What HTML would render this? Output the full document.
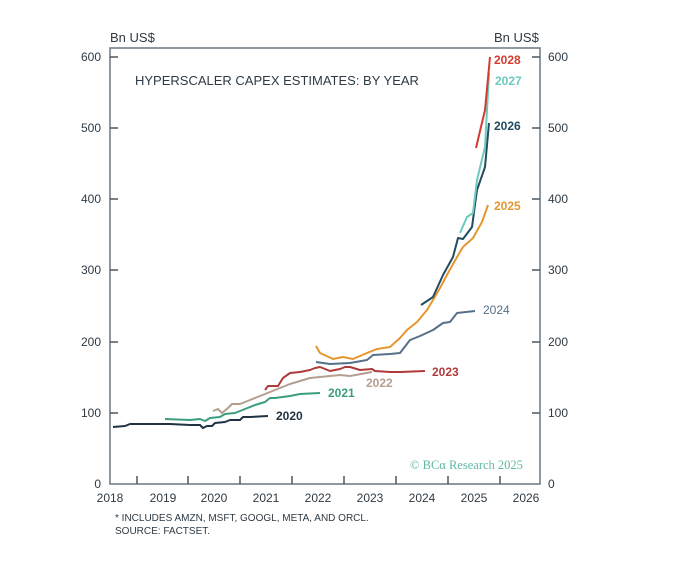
<!DOCTYPE html>
<html><head><meta charset="utf-8"><style>
body{margin:0;background:#fff;}
svg{display:block;font-family:"Liberation Sans",sans-serif;}
</style></head><body>
<svg width="679" height="574" viewBox="0 0 679 574">
<rect width="679" height="574" fill="#fff"/>
<g fill="#2e3a44" font-size="13">
<text x="110" y="42">Bn US$</text>
<text x="494" y="42">Bn US$</text>
</g>
<rect x="110" y="48" width="430" height="436" fill="none" stroke="#6b7780" stroke-width="1.5"/>
<g stroke="#4a5560" stroke-width="1.5">
<line x1="110" y1="57" x2="118" y2="57"/><line x1="110" y1="128" x2="118" y2="128"/><line x1="110" y1="199" x2="118" y2="199"/><line x1="110" y1="270" x2="118" y2="270"/><line x1="110" y1="342" x2="118" y2="342"/><line x1="110" y1="413" x2="118" y2="413"/>
<line x1="532" y1="57" x2="540" y2="57"/><line x1="532" y1="128" x2="540" y2="128"/><line x1="532" y1="199" x2="540" y2="199"/><line x1="532" y1="270" x2="540" y2="270"/><line x1="532" y1="342" x2="540" y2="342"/><line x1="532" y1="413" x2="540" y2="413"/>
<line x1="137" y1="476" x2="137" y2="484"/><line x1="188" y1="476" x2="188" y2="484"/><line x1="240" y1="476" x2="240" y2="484"/><line x1="292" y1="476" x2="292" y2="484"/><line x1="344" y1="476" x2="344" y2="484"/><line x1="396" y1="476" x2="396" y2="484"/><line x1="448" y1="476" x2="448" y2="484"/><line x1="500" y1="476" x2="500" y2="484"/>
</g>
<g fill="#2e3a44" font-size="12" text-anchor="end">
<text x="101" y="61">600</text><text x="101" y="132">500</text><text x="101" y="203">400</text><text x="101" y="274">300</text><text x="101" y="346">200</text><text x="101" y="417">100</text><text x="101" y="488">0</text>
</g>
<g fill="#2e3a44" font-size="12">
<text x="548" y="61">600</text><text x="548" y="132">500</text><text x="548" y="203">400</text><text x="548" y="274">300</text><text x="548" y="346">200</text><text x="548" y="417">100</text><text x="548" y="488">0</text>
</g>
<g fill="#2e3a44" font-size="12" text-anchor="middle">
<text x="110" y="502">2018</text><text x="163" y="502">2019</text><text x="214" y="502">2020</text><text x="266" y="502">2021</text><text x="318" y="502">2022</text><text x="370" y="502">2023</text><text x="422" y="502">2024</text><text x="474" y="502">2025</text><text x="526" y="502">2026</text>
</g>
<text x="135" y="85" font-size="13" fill="#2e3a44">HYPERSCALER CAPEX ESTIMATES: BY YEAR</text>
<g fill="none" stroke-width="2" stroke-linejoin="round">
<polyline stroke="#1f3344" points="113,427 125,426 130,424 150,424 170,424 190,425 200,425 203,428 207,426 212,426 215,423 225,422 230,420 240,420 243,417 250,417 268,416"/>
<polyline stroke="#3a9e7e" points="165,419 190,420 200,419 205,421 210,418 220,417 225,414 235,413 245,409 255,405 265,402 270,398 275,398 290,396 300,394 320,393"/>
<polyline stroke="#b39e90" points="213,411 218,409 222,413 228,408 232,404 240,404 250,400 260,396 270,392 280,388 290,384 300,381 310,378 330,376 340,375 350,376 372,372"/>
<polyline stroke="#b03a3a" points="265,390 268,386 278,386 283,378 290,373 300,372 310,370 315,368 320,367 330,371 340,369 345,367 350,367 360,370 372,369 375,371 390,372 400,372 425,371"/>
<polyline stroke="#56708a" points="316,362 330,364 350,363 367,360 373,355 390,354 400,353 410,340 420,336 433,330 443,323 450,322 457,313 475,311"/>
<polyline stroke="#e5962e" points="316,346 320,353 333,359 343,357 353,359 367,353 377,349 390,347 400,338 407,330 417,322 427,310 433,300 440,288 448,273 457,257 463,247 473,238 482,222 488,205"/>
<polyline stroke="#234c5e" points="421,305 433,297 443,275 453,257 458,238 463,239 472,227 477,190 485,167 489,123"/>
<polyline stroke="#6cc9bd" points="460,233 467,217 473,213 477,180 485,147 489,73"/>
<polyline stroke="#d43a30" points="476,148 485,110 490,57"/>
</g>
<g font-size="12" font-weight="bold">
<text x="276" y="420" fill="#1f3344">2020</text>
<text x="328" y="397" fill="#3a9e7e">2021</text>
<text x="366" y="387" fill="#b39e90">2022</text>
<text x="432" y="376" fill="#b03a3a">2023</text>
<text x="483" y="314" fill="#56708a" font-weight="normal">2024</text>
<text x="494" y="210" fill="#e5962e">2025</text>
<text x="494" y="130" fill="#234c5e">2026</text>
<text x="495" y="85" fill="#6cc9bd">2027</text>
<text x="494" y="64" fill="#d43a30">2028</text>
</g>
<text x="410" y="469" font-size="12.5" fill="#5fb8a5" font-family="Liberation Serif,serif">© BCα Research 2025</text>
<g fill="#2e3a44" font-size="10">
<text x="115" y="521">* INCLUDES AMZN, MSFT, GOOGL, META, AND ORCL.</text>
<text x="115" y="534">SOURCE: FACTSET.</text>
</g>
</svg>
</body></html>
